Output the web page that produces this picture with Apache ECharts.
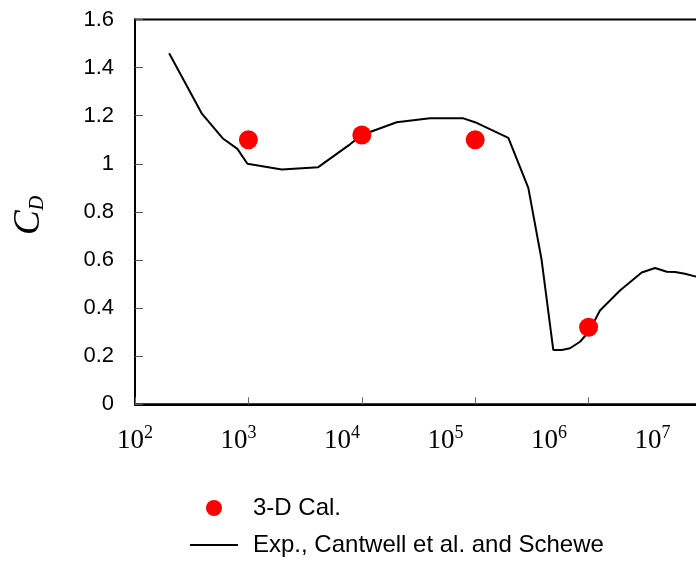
<!DOCTYPE html>
<html><head><meta charset="utf-8">
<script src="https://cdn.jsdelivr.net/npm/echarts@6/dist/echarts.min.js"></script>
<style>html,body{margin:0;padding:0;background:#fff}#c{width:696px;height:561px}</style>
</head><body><div id="c"></div>
<script>
// Experimental curve (Cantwell et al. and Schewe): Reynolds number and drag coefficient
const expRe = [200, 387, 600, 800, 980, 1970, 4130, 7870, 10000, 20300, 39900, 78600, 99600, 196000, 294000, 385000, 488000, 580000, 686000, 840000, 1000000, 1260000, 1890000, 2940000, 3860000, 4890000, 5780000, 7080000, 8670000, 12000000];
const expCd = [1.46, 1.21, 1.104, 1.062, 1.0, 0.976, 0.986, 1.081, 1.12, 1.173, 1.189, 1.189, 1.173, 1.108, 0.90, 0.601, 0.226, 0.226, 0.233, 0.26, 0.30, 0.39, 0.473, 0.548, 0.567, 0.551, 0.55, 0.543, 0.532, 0.52];
// 3-D calculation
const calRe = [1000, 10000, 100000, 1000000];
const calCd = [1.10, 1.12, 1.10, 0.32];
// tick labels
const xTickExponents = ['2', '3', '4', '5', '6', '7'];
const yTickLabels = ['0', '0.2', '0.4', '0.6', '0.8', '1', '1.2', '1.4', '1.6'];
const seriesNames = ['3-D Cal.', 'Exp., Cantwell et al. and Schewe'];

const chart = echarts.init(document.getElementById('c'), null, {renderer: 'canvas'});
const expData = expRe.map((r, i) => [r, expCd[i]]);
const calData = calRe.map((r, i) => [r, calCd[i]]);

chart.setOption({
  animation: false,
  backgroundColor: '#fff',
  grid: {left: 135, width: 680.4, top: 19.5, height: 384.8, show: true, borderColor: '#000', borderWidth: 2,
    containLabel: false, outerBoundsMode: 'none'},
  xAxis: [{
    type: 'log', logBase: 10, min: 100, max: 1e8, position: 'bottom',
    axisLine: {show: true, lineStyle: {color: '#000', width: 2}},
    axisTick: {show: true, inside: true, length: 7, lineStyle: {color: '#666', width: 1}},
    axisLabel: {show: false}, splitLine: {show: false}, minorTick: {show: false}
  }, {
    type: 'value', min: 0, max: 6.574, interval: 1, position: 'bottom',
    axisLine: {show: false}, axisTick: {show: false}, splitLine: {show: false},
    axisLabel: {
      margin: 20,
      formatter: v => {
        const e = xTickExponents[Math.round(v)];
        if (Math.abs(v - Math.round(v)) > 1e-6 || e === undefined) return '';
        return '{b|10}{s|' + e + '}';
      },
      rich: {
        b: {fontFamily: 'Liberation Serif', fontSize: 27, color: '#000', lineHeight: 30, verticalAlign: 'bottom'},
        s: {fontFamily: 'Liberation Serif', fontSize: 18, color: '#000', lineHeight: 18, verticalAlign: 'top'}
      }
    }
  }],
  yAxis: {
    type: 'value', min: 0, max: 1.6, interval: 0.2,
    name: '{c|C}{d|D}', nameLocation: 'middle', nameGap: 87, nameRotate: 90,
    nameTextStyle: {
      padding: [0, 7, 0, 0],
      rich: {
        c: {fontFamily: 'Liberation Serif', fontStyle: 'italic', fontSize: 37, color: '#000', lineHeight: 37, verticalAlign: 'top'},
        d: {fontFamily: 'Liberation Serif', fontStyle: 'italic', fontSize: 20, color: '#000', lineHeight: 22, padding: [20, 0, 0, 0], verticalAlign: 'bottom'}
      }
    },
    axisLine: {show: true, lineStyle: {color: '#000', width: 2}},
    axisTick: {show: true, inside: true, length: 8, lineStyle: {color: '#555', width: 1}},
    axisLabel: {margin: 21, fontFamily: 'Liberation Sans', fontSize: 22, color: '#000',
      formatter: v => yTickLabels[Math.round(v / 0.2)]},
    splitLine: {show: false}
  },
  legend: {
    orient: 'vertical', left: 190, top: 496, padding: 0, itemGap: 13,
    itemWidth: 48, itemHeight: 16,
    data: [{name: seriesNames[0], icon: 'circle'}, {name: seriesNames[1], icon: 'path://M0,0H48V2H0Z'}],
    textStyle: {fontFamily: 'Liberation Sans', fontSize: 24, color: '#000', lineHeight: 24, padding: [0, 0, 0, 10]}
  },
  series: [{
    name: seriesNames[1], type: 'line', data: expData, xAxisIndex: 0,
    symbol: 'none', showSymbol: false, smooth: false,
    lineStyle: {color: '#000', width: 2}, itemStyle: {color: '#000'}, z: 2
  }, {
    name: seriesNames[0], type: 'scatter', data: calData, xAxisIndex: 0,
    symbol: 'circle', symbolSize: 19, itemStyle: {color: '#ff0000', opacity: 1}, z: 3
  }]
});
</script></body></html>
